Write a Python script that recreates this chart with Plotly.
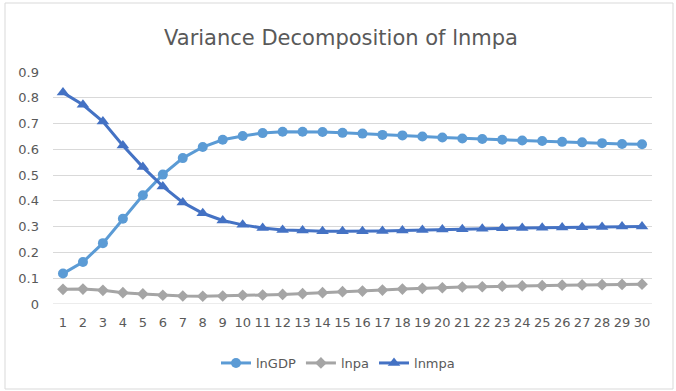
import plotly.graph_objects as go

periods = list(range(1, 31))
lnGDP = [0.118, 0.163, 0.236, 0.331, 0.422, 0.502, 0.566, 0.609, 0.637, 0.652,
         0.663, 0.668, 0.668, 0.667, 0.664, 0.661, 0.656, 0.654, 0.650, 0.646,
         0.642, 0.640, 0.637, 0.634, 0.632, 0.629, 0.627, 0.624, 0.621, 0.620]
lnpa = [0.057, 0.058, 0.053, 0.044, 0.039, 0.034, 0.031, 0.030, 0.031, 0.034,
        0.035, 0.037, 0.040, 0.044, 0.048, 0.050, 0.054, 0.058, 0.061, 0.063,
        0.066, 0.067, 0.069, 0.070, 0.071, 0.073, 0.074, 0.075, 0.076, 0.077]
lnmpa = [0.820, 0.773, 0.708, 0.615, 0.531, 0.456, 0.394, 0.352, 0.324, 0.307,
         0.295, 0.287, 0.285, 0.282, 0.282, 0.282, 0.283, 0.285, 0.287, 0.289,
         0.290, 0.292, 0.294, 0.295, 0.296, 0.297, 0.298, 0.299, 0.301, 0.301]
y_ticks = [0, 0.1, 0.2, 0.3, 0.4, 0.5, 0.6, 0.7, 0.8, 0.9]

FONT = "DejaVu Sans"
GRAY = "#595959"

fig = go.Figure()
fig.add_trace(go.Scatter(x=periods, y=lnGDP, name="lnGDP", mode="lines+markers",
                         line=dict(color="#5b9bd5", width=3),
                         marker=dict(symbol="circle", size=10, color="#5b9bd5")))
fig.add_trace(go.Scatter(x=periods, y=lnpa, name="lnpa", mode="lines+markers",
                         line=dict(color="#a5a5a5", width=3),
                         marker=dict(symbol="diamond", size=9, color="#a5a5a5")))
fig.add_trace(go.Scatter(x=periods, y=lnmpa, name="lnmpa", mode="lines+markers",
                         line=dict(color="#4472c4", width=3),
                         marker=dict(symbol="triangle-up", size=11, color="#4472c4")))

W, H = 676, 391
L, R, T, B = 53, 24, 72, 87
pw, ph = W - L - R, H - T - B

def px_x(p):
    return (p - L) / pw

def px_y(p):
    return (H - B - p) / ph

fig.update_layout(
    template="none",
    width=W, height=H,
    margin=dict(l=L, r=R, t=T, b=B, autoexpand=False),
    paper_bgcolor="white", plot_bgcolor="white",
    font=dict(family=FONT, color=GRAY, size=13),
    title=dict(text="Variance Decomposition of lnmpa", x=px_x(341), xanchor="center",
               xref="paper", y=1 - 38 / H, yanchor="middle",
               font=dict(family=FONT, size=21, color=GRAY)),
    xaxis=dict(range=[0.5, 30.5], tickmode="array", tickvals=periods,
               ticktext=[str(p) for p in periods], showgrid=False, zeroline=False,
               showline=False, ticks="", ticklabelstandoff=9, automargin=False,
               tickfont=dict(size=13, color=GRAY)),
    yaxis=dict(range=[0, 0.9], tickmode="array", tickvals=y_ticks,
               ticktext=["0"] + [f"{v:.1f}" for v in y_ticks[1:]],
               showgrid=True, gridcolor="#d9d9d9", gridwidth=1, zeroline=False,
               showline=False, ticks="", ticklabelstandoff=13, automargin=False,
               tickfont=dict(size=13, color=GRAY)),
    legend=dict(orientation="h", x=px_x(338), xanchor="center", y=px_y(363),
                yanchor="middle", font=dict(size=13, color=GRAY),
                bgcolor="rgba(0,0,0,0)", tracegroupgap=0),
    showlegend=True,
    shapes=[dict(type="rect", xref="paper", yref="paper",
                 x0=px_x(5), x1=px_x(673), y0=px_y(389), y1=px_y(3),
                 line=dict(color="#d9d9d9", width=1), layer="below"),
            dict(type="line", xref="paper", yref="y", x0=0, x1=1, y0=0, y1=0,
                 line=dict(color="#d9d9d9", width=1), layer="below")],
)

fig.write_html("out.html",
               config={"displayModeBar": False},
               post_script="document.body.style.margin='0';document.body.style.overflow='hidden';")
